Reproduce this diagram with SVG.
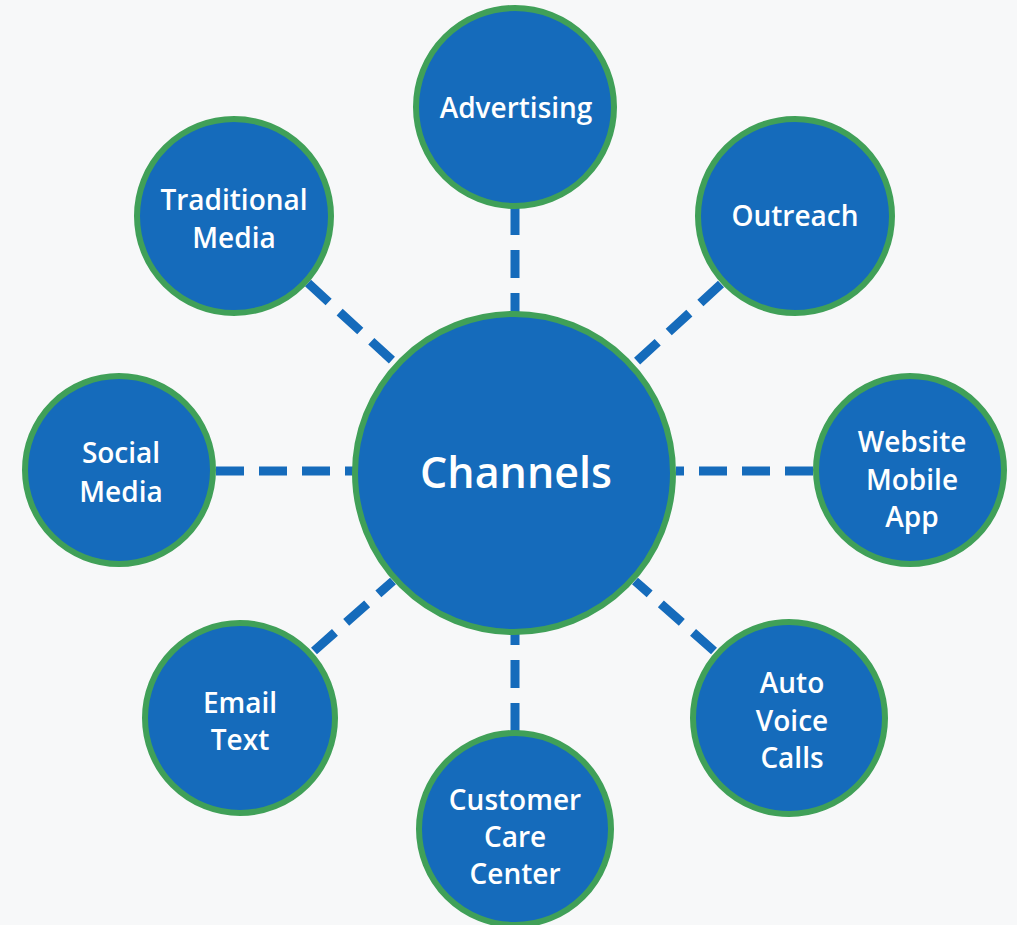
<svg xmlns="http://www.w3.org/2000/svg" width="1017" height="925" viewBox="0 0 1017 925">
  <style>
    .bg { fill: #f7f8f9; }
    .node circle { fill: #156bbb; stroke: #40a058; stroke-width: 6; }
    .node text { fill: #ffffff; font-family: "Open Sans", "Noto Sans", "Liberation Sans", sans-serif; font-size: 28px; font-weight: 600; text-anchor: middle; }
    #channels text { font-size: 43px; }
    .conn line { stroke: #156bbb; stroke-width: 9; stroke-dasharray: 28 15; fill: none; }
  </style>
  <rect class="bg" x="0" y="0" width="1017" height="925"/>
  <g id="connectors" class="conn">
    <line x1="515" y1="207" x2="515" y2="314"/>
    <line x1="515" y1="731" x2="515" y2="632"/>
    <line x1="216" y1="471" x2="353" y2="471"/>
    <line x1="813" y1="471" x2="676" y2="471"/>
    <line x1="308" y1="283" x2="395" y2="363"/>
    <line x1="721" y1="284" x2="634" y2="364"/>
    <line x1="314" y1="651" x2="393" y2="581"/>
    <line x1="714" y1="651" x2="635" y2="581"/>
  </g>
  <g id="channels" class="node">
    <circle cx="514" cy="473" r="159"/>
    <text x="516" y="488">Channels</text>
  </g>
  <g id="advertising" class="node">
    <circle cx="515" cy="107" r="99"/>
    <text x="516" y="118">Advertising</text>
  </g>
  <g id="outreach" class="node">
    <circle cx="795" cy="216" r="97"/>
    <text x="795" y="226">Outreach</text>
  </g>
  <g id="traditional-media" class="node">
    <circle cx="234" cy="216" r="97"/>
    <text x="234" y="210">Traditional</text>
    <text x="234" y="248">Media</text>
  </g>
  <g id="social-media" class="node">
    <circle cx="119" cy="470" r="94"/>
    <text x="121" y="463">Social</text>
    <text x="121" y="502">Media</text>
  </g>
  <g id="website-mobile-app" class="node">
    <circle cx="910" cy="470" r="94"/>
    <text x="912" y="452">Website</text>
    <text x="912" y="490">Mobile</text>
    <text x="912" y="527">App</text>
  </g>
  <g id="email-text" class="node">
    <circle cx="240" cy="718" r="95"/>
    <text x="240" y="713">Email</text>
    <text x="240" y="750">Text</text>
  </g>
  <g id="auto-voice-calls" class="node">
    <circle cx="789" cy="718" r="96"/>
    <text x="792" y="693">Auto</text>
    <text x="792" y="731">Voice</text>
    <text x="792" y="768">Calls</text>
  </g>
  <g id="customer-care-center" class="node">
    <circle cx="515" cy="829" r="96"/>
    <text x="515" y="810">Customer</text>
    <text x="515" y="847">Care</text>
    <text x="515" y="884">Center</text>
  </g>
</svg>
